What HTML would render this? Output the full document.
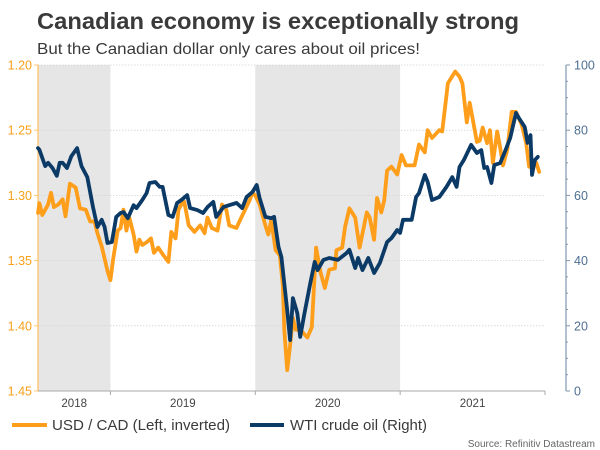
<!DOCTYPE html>
<html><head><meta charset="utf-8">
<style>
html,body{margin:0;padding:0;background:#fff;}
svg{display:block;font-family:"Liberation Sans",Arial,sans-serif;}
</style></head>
<body>
<svg id="chart" width="600" height="450" viewBox="0 0 600 450" xmlns="http://www.w3.org/2000/svg">
  <text x="37" y="29" font-size="23" font-weight="bold" fill="#3a3a3a" textLength="482" lengthAdjust="spacingAndGlyphs">Canadian economy is exceptionally strong</text>
  <text x="37" y="54" font-size="16" fill="#3a3a3a" textLength="383" lengthAdjust="spacingAndGlyphs">But the Canadian dollar only cares about oil prices!</text>
  <g id="shading"></g>
  <g id="grid"></g>
  <g id="axes"></g>
  <g id="series"></g>
  <g>
    <line x1="12" y1="425" x2="47" y2="425" stroke="#FF9E1B" stroke-width="4"/>
    <text x="52" y="430" font-size="15" fill="#3a3a3a" textLength="178" lengthAdjust="spacingAndGlyphs">USD / CAD (Left, inverted)</text>
    <line x1="250" y1="425" x2="284" y2="425" stroke="#0B3A66" stroke-width="4"/>
    <text x="290" y="430" font-size="15" fill="#3a3a3a" textLength="137" lengthAdjust="spacingAndGlyphs">WTI crude oil (Right)</text>
  </g>
  <text x="595" y="447" font-size="10" fill="#666" text-anchor="end">Source: Refinitiv Datastream</text>
</svg>
<script>
const usdDates=[2018.50,2018.51,2018.53,2018.57,2018.59,2018.61,2018.64,2018.67,2018.69,2018.72,2018.76,2018.79,2018.83,2018.86,2018.89,2018.91,2018.94,2018.98,2019.00,2019.02,2019.05,2019.07,2019.09,2019.11,2019.13,2019.16,2019.18,2019.20,2019.22,2019.25,2019.28,2019.30,2019.33,2019.36,2019.40,2019.42,2019.45,2019.47,2019.49,2019.51,2019.54,2019.58,2019.62,2019.65,2019.67,2019.70,2019.74,2019.77,2019.80,2019.82,2019.87,2019.89,2019.93,2019.96,2019.98,2020.00,2020.03,2020.07,2020.09,2020.11,2020.14,2020.17,2020.19,2020.20,2020.22,2020.24,2020.26,2020.28,2020.31,2020.36,2020.39,2020.42,2020.45,2020.48,2020.51,2020.55,2020.56,2020.60,2020.62,2020.65,2020.69,2020.72,2020.77,2020.79,2020.82,2020.84,2020.87,2020.89,2020.91,2020.94,2020.98,2021.01,2021.04,2021.10,2021.13,2021.17,2021.19,2021.22,2021.27,2021.29,2021.33,2021.38,2021.41,2021.43,2021.46,2021.48,2021.53,2021.55,2021.57,2021.60,2021.62,2021.64,2021.67,2021.69,2021.71,2021.74,2021.77,2021.80,2021.84,2021.87,2021.89,2021.91,2021.94,2021.96];
const usdValues=[1.3135,1.306,1.315,1.307,1.298,1.309,1.307,1.303,1.316,1.291,1.294,1.310,1.311,1.320,1.320,1.329,1.339,1.358,1.365,1.348,1.327,1.325,1.311,1.327,1.317,1.330,1.343,1.334,1.338,1.336,1.333,1.344,1.340,1.345,1.351,1.328,1.333,1.311,1.307,1.305,1.323,1.328,1.323,1.329,1.317,1.325,1.327,1.307,1.311,1.323,1.325,1.320,1.311,1.304,1.298,1.300,1.307,1.323,1.330,1.319,1.342,1.346,1.369,1.403,1.434,1.415,1.394,1.403,1.403,1.409,1.401,1.340,1.359,1.371,1.357,1.356,1.342,1.340,1.324,1.310,1.317,1.340,1.313,1.317,1.334,1.302,1.313,1.304,1.281,1.278,1.284,1.269,1.277,1.277,1.261,1.267,1.250,1.256,1.250,1.251,1.214,1.205,1.209,1.214,1.244,1.229,1.259,1.258,1.248,1.260,1.250,1.275,1.251,1.263,1.277,1.265,1.236,1.236,1.246,1.260,1.278,1.278,1.275,1.282];
const wtiDates=[2018.50,2018.51,2018.55,2018.57,2018.60,2018.63,2018.65,2018.67,2018.70,2018.73,2018.77,2018.80,2018.84,2018.88,2018.91,2018.94,2018.96,2018.98,2019.01,2019.04,2019.07,2019.09,2019.12,2019.16,2019.18,2019.22,2019.25,2019.27,2019.31,2019.34,2019.36,2019.40,2019.43,2019.46,2019.49,2019.53,2019.55,2019.60,2019.64,2019.67,2019.71,2019.73,2019.78,2019.82,2019.87,2019.91,2019.94,2019.98,2020.01,2020.03,2020.07,2020.11,2020.13,2020.16,2020.18,2020.22,2020.24,2020.26,2020.29,2020.31,2020.34,2020.38,2020.41,2020.43,2020.47,2020.51,2020.57,2020.63,2020.65,2020.69,2020.71,2020.74,2020.78,2020.82,2020.86,2020.91,2020.94,2020.98,2021.00,2021.02,2021.08,2021.11,2021.13,2021.17,2021.19,2021.22,2021.27,2021.32,2021.36,2021.39,2021.41,2021.44,2021.49,2021.53,2021.56,2021.58,2021.60,2021.63,2021.65,2021.69,2021.72,2021.76,2021.80,2021.82,2021.86,2021.88,2021.90,2021.91,2021.93,2021.95];
const wtiValues=[74.5,74,69,70,68.4,66,70,70,68.4,72,74.5,69,65.6,56.4,50.3,52.5,50.3,45.4,45.7,53.4,54.6,54.9,53,57,56.1,58.6,60.7,63.8,64.1,62.6,62.6,54,53.4,57.7,58.6,60.1,56.1,55.5,54.6,56.4,58,53.4,56.4,57,57.7,56.1,59.5,61,63.2,59.2,53.4,53,53.4,44.2,41.1,24.8,15.6,28.5,23.9,16.6,23.9,33.1,39.6,37.1,40.2,40.8,40.2,42.3,43.3,37.7,40.8,37.1,40.8,36.2,39.3,45.7,46.9,49.4,48.5,52.5,52.5,59.5,60.7,66.3,64.1,58.6,59.5,62.6,65.6,62.6,68.7,70.9,75.5,73,73.9,68.4,68.7,63.8,69.3,69.9,73,77.6,85.3,83.7,81,76.1,78.5,66.3,70.9,71.8];
const leftTicks=[1.20,1.25,1.30,1.35,1.40,1.45];
const rightTicks=[0,20,40,60,80,100];
const yearLabels=["2018","2019","2020","2021"];
const yearStarts=[2018,2019,2020,2021];
const shadedYears=[2018,2020];

const NS="http://www.w3.org/2000/svg";
const X0=38,X1=545,Y0=65,Y1=391,T0=2018.5,T1=2022.0;
function xs(t){return X0+(t-T0)/(T1-T0)*(X1-X0);}
function yl(v){return Y0+(v-1.20)/(1.45-1.20)*(Y1-Y0);}
function yr(v){return Y1-(v/100)*(Y1-Y0);}
function mk(tag,attrs,parent){const e=document.createElementNS(NS,tag);for(const k in attrs)e.setAttribute(k,attrs[k]);parent.appendChild(e);return e;}

const shading=document.getElementById('shading');
shadedYears.forEach(y=>{
  const a=Math.max(xs(y),X0),b=Math.min(xs(y+1),X1);
  const r=mk('rect',{x:a,y:Y0,width:b-a,height:Y1-Y0,fill:'#e6e6e6'},shading);
  
  
});

const grid=document.getElementById('grid');
leftTicks.forEach(v=>{
  if(v===1.45)return;
  const l=mk('line',{x1:X0,x2:X1,y1:yl(v),y2:yl(v),stroke:'#d4d4d4','stroke-width':0.8,'stroke-dasharray':'1.5,1.5'},grid);
  
  
});

const axes=document.getElementById('axes');
// left axis
let la=mk('line',{x1:X0,x2:X0,y1:Y0,y2:Y1,stroke:'#FFC878','stroke-width':1.5},axes);


leftTicks.forEach(v=>{
  mk('line',{x1:X0-4,x2:X0,y1:yl(v),y2:yl(v),stroke:'#FFC878','stroke-width':1},axes);
  const t=mk('text',{x:X0-6,y:yl(v)+4.5,'font-size':12.5,fill:'#F7A01B','text-anchor':'end'},axes);
  t.textContent=v.toFixed(2);
  
  
});
// right axis
const RX=566;
let ra=mk('line',{x1:RX,x2:RX,y1:Y0,y2:Y1,stroke:'#7F96AF','stroke-width':1.2},axes);


for(let v=0;v<=100;v+=5){
  const major=v%20===0;
  mk('line',{x1:RX,x2:RX+(major?4:2),y1:yr(v),y2:yr(v),stroke:'#7F96AF','stroke-width':1},axes);
}
rightTicks.forEach(v=>{
  const t=mk('text',{x:RX+8,y:yr(v)+4.5,'font-size':12.5,fill:'#4F6F92'},axes);
  t.textContent=v;
  
  
});
// x axis
let xa=mk('line',{x1:X0,x2:X1,y1:Y1,y2:Y1,stroke:'#aaa','stroke-width':1},axes);


yearStarts.forEach((y,i)=>{
  const a=xs(y+1);
  if(a<=X1+0.5) mk('line',{x1:a,x2:a,y1:Y1,y2:Y1+4,stroke:'#aaa','stroke-width':1},axes);
  const cx=(Math.max(xs(y),X0)+Math.min(xs(y+1),X1))/2;
  const t=mk('text',{x:cx,y:Y1+16,'font-size':11.5,fill:'#444','text-anchor':'middle'},axes);
  t.textContent=yearLabels[i];
  
  
});

const series=document.getElementById('series');
let d1=usdDates.map((t,i)=>(i?'L':'M')+xs(t).toFixed(1)+' '+yl(usdValues[i]).toFixed(1)).join(' ');
const p1=mk('path',{d:d1,fill:'none',stroke:'#FF9E1B','stroke-width':3.8,'stroke-linejoin':'round','stroke-linecap':'round'},series);


let d2=wtiDates.map((t,i)=>(i?'L':'M')+xs(t).toFixed(1)+' '+yr(wtiValues[i]).toFixed(1)).join(' ');
const p2=mk('path',{d:d2,fill:'none',stroke:'#0B3A66','stroke-width':3.8,'stroke-linejoin':'round','stroke-linecap':'round'},series);


</script>
</body></html>
